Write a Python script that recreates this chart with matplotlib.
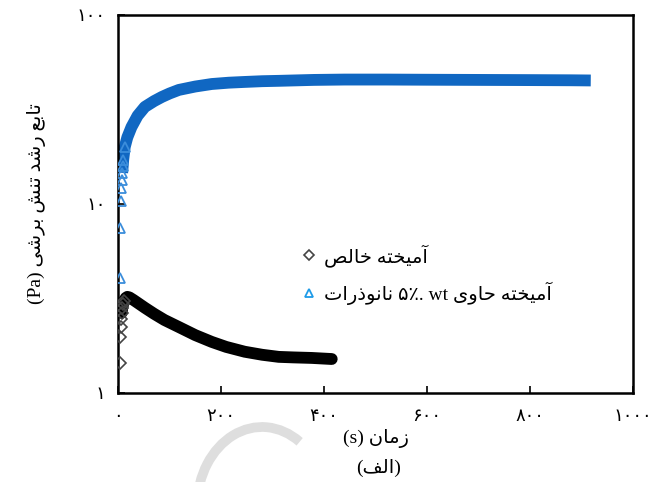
import matplotlib
matplotlib.use("Agg")
import matplotlib.pyplot as plt
from matplotlib.patches import Arc
from matplotlib.transforms import IdentityTransform

plt.rcParams['font.family'] = ['Liberation Serif', 'DejaVu Sans']

# time (s) and shear stress growth function (Pa)
t_pure = [3, 4, 5, 6, 7, 8, 10, 12, 15, 18, 22, 30, 40, 52, 70, 90, 118,
          150, 182, 210, 246, 280, 312, 340, 376, 415]
g_pure = [1.44, 1.98, 2.23, 2.45, 2.65, 2.8, 2.95, 3.08, 3.18, 3.22, 3.2,
          3.1, 2.97, 2.82, 2.62, 2.43, 2.23, 2.02, 1.86, 1.75, 1.65, 1.59,
          1.55, 1.54, 1.53, 1.51]

t_nano = [3, 4, 5, 6, 7, 8, 9, 10, 13, 18, 26, 38, 52, 70, 85, 100, 118,
          150, 182, 215, 246, 280, 312, 380, 440, 520, 600, 700, 800, 880, 918]
g_nano = [4.06, 7.46, 10.3, 12.2, 13.4, 14.6, 15.8, 17.1, 20.0, 22.5, 25.5,
          29.3, 32.6, 35.0, 36.8, 38.4, 40.1, 41.8, 43.1, 43.8, 44.2, 44.6,
          44.8, 45.3, 45.5, 45.5, 45.4, 45.3, 45.2, 45.1, 45.0]

x_ticks = [0, 200, 400, 600, 800, 1000]
x_labels = ['۰', '۲۰۰', '۴۰۰', '۶۰۰', '۸۰۰', '۱۰۰۰']
y_ticks = [1, 10, 100]
y_labels = ['۱', '۱۰', '۱۰۰']

# contextual glyphs: isolated, final, initial, medial (None = joins on the right only)
FORMS = {
    'ا': ('\ufe8d', '\ufe8e', None, None),
    'آ': ('\ufe81', '\ufe82', None, None),
    'ب': ('\ufe8f', '\ufe90', '\ufe91', '\ufe92'),
    'ت': ('\ufe95', '\ufe96', '\ufe97', '\ufe98'),
    'ح': ('\ufea1', '\ufea2', '\ufea3', '\ufea4'),
    'خ': ('\ufea5', '\ufea6', '\ufea7', '\ufea8'),
    'د': ('\ufea9', '\ufeaa', None, None),
    'ذ': ('\ufeab', '\ufeac', None, None),
    'ر': ('\ufead', '\ufeae', None, None),
    'ز': ('\ufeaf', '\ufeb0', None, None),
    'ش': ('\ufeb5', '\ufeb6', '\ufeb7', '\ufeb8'),
    'ص': ('\ufeb9', '\ufeba', '\ufebb', '\ufebc'),
    'ع': ('\ufec9', '\ufeca', '\ufecb', '\ufecc'),
    'ف': ('\ufed1', '\ufed2', '\ufed3', '\ufed4'),
    'ل': ('\ufedd', '\ufede', '\ufedf', '\ufee0'),
    'م': ('\ufee1', '\ufee2', '\ufee3', '\ufee4'),
    'ن': ('\ufee5', '\ufee6', '\ufee7', '\ufee8'),
    'ه': ('\ufee9', '\ufeea', '\ufeeb', '\ufeec'),
    'و': ('\ufeed', '\ufeee', None, None),
    'ی': ('\ufeef', '\ufef0', '\ufef3', '\ufef4'),
}


def fa(word):
    # shape a persian word and return it in left-to-right drawing order
    out = []
    for i, ch in enumerate(word):
        f = FORMS[ch]
        prev = word[i - 1] if i > 0 else None
        nxt = word[i + 1] if i + 1 < len(word) else None
        join_prev = prev is not None and FORMS[prev][2] is not None
        join_next = nxt is not None and f[2] is not None
        if join_prev and join_next:
            out.append(f[3])
        elif join_prev:
            out.append(f[1])
        elif join_next:
            out.append(f[2])
        else:
            out.append(f[0])
    return ''.join(reversed(out))


def fa_line(words):
    return ' '.join(fa(w) for w in reversed(words))


ylabel = '(Pa) ' + fa_line(['تابع', 'رشد', 'تنش', 'برشی'])
xlabel = '(s) ' + fa('زمان')
caption = '(' + fa('الف') + ')'
label_pure = fa_line(['آمیخته', 'خالص'])
label_nano = fa('نانوذرات') + ' ۵٪. wt ' + fa_line(['آمیخته', 'حاوی'])

blue = '#1067c2'

fig = plt.figure(figsize=(6.67, 4.82), dpi=100)
ax = fig.add_axes([0.177, 0.185, 0.772, 0.784])

# dense measurement points overlap into a solid band
ax.plot(t_nano[5:], g_nano[5:], color=blue, lw=8.5, solid_capstyle='butt',
        solid_joinstyle='round', zorder=2)
ax.plot(t_pure[4:], g_pure[4:], color='black', lw=8.5, solid_capstyle='round',
        solid_joinstyle='round', zorder=2)
ax.plot(t_nano, g_nano, ls='none', marker='^', ms=7, mfc='none', mec='#3b8ddb',
        mew=1.3, markevery=slice(0, 9), label=label_nano, zorder=3)
ax.plot(t_pure, g_pure, ls='none', marker='D', ms=6, mfc='none', mec='#444444',
        mew=1.2, markevery=slice(0, 8), label=label_pure, zorder=3)

ax.set_yscale('log')
ax.set_xlim(0, 1000)
ax.set_ylim(1, 100)
ax.set_xticks(x_ticks)
ax.set_xticklabels(x_labels, fontsize=13)
ax.set_yticks(y_ticks)
ax.set_yticklabels(y_labels, fontsize=13)
ax.minorticks_off()
ax.tick_params(direction='in', length=5, width=1.2)
ax.tick_params(axis='x', pad=11)
ax.tick_params(axis='y', pad=9)
for s in ax.spines.values():
    s.set_linewidth(1.8)

ax.set_xlabel(xlabel, fontsize=14, labelpad=3)
ax.set_ylabel(ylabel, fontsize=14, labelpad=22)

handles, labels = ax.get_legend_handles_labels()
leg = ax.legend(handles[::-1], labels[::-1], loc='upper left',
                bbox_to_anchor=(0.325, 0.44), frameon=False, fontsize=14,
                handlelength=0.6, handletextpad=0.5, labelspacing=0.75,
                markerscale=0.8)
leg.legend_handles[1].set_markeredgecolor('#1e9be8')

fig.text(0.567, 0.03, caption, ha='center', va='center', fontsize=14)

# faint grey arc behind the caption
arc = Arc((262, -25), 130, 160, theta1=60, theta2=178, transform=IdentityTransform(),
          color='#dedede', lw=7, zorder=0)
fig.add_artist(arc)

fig.savefig('out.png', dpi=100)
